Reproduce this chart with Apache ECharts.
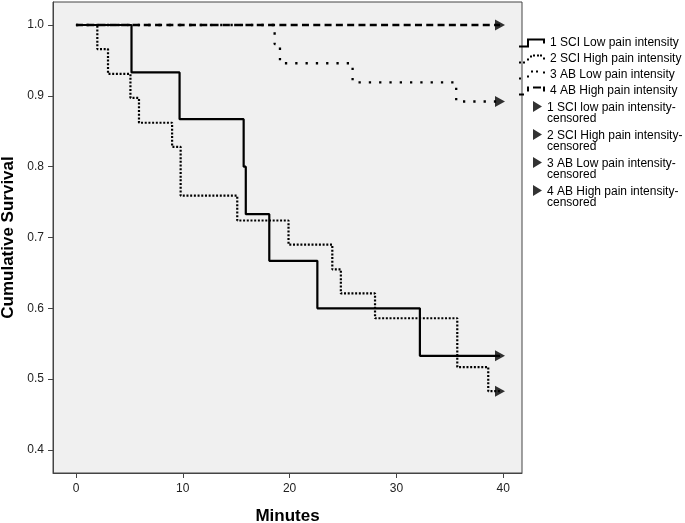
<!DOCTYPE html>
<html>
<head>
<meta charset="utf-8">
<script src="https://cdn.jsdelivr.net/npm/echarts@6/dist/echarts.min.js"></script>
<style>
html,body{margin:0;padding:0;background:#fff;}
#chart{width:685px;height:523px;}
</style>
</head>
<body>
<div id="chart"></div>
<script>
// Data (Kaplan-Meier step points: time in minutes, cumulative survival)
const sciLowTimes  = [0, 5.2, 9.7, 15.7, 15.9, 18.1, 22.6, 32.2, 39.7];
const sciLowSurv   = [1.0, 0.933, 0.867, 0.800, 0.733, 0.667, 0.600, 0.533, 0.533];
const sciHighTimes = [0, 2.0, 3.0, 5.1, 5.9, 9.0, 9.8, 15.1, 19.9, 24.0, 24.8, 28.0, 35.7, 38.6, 39.7];
const sciHighSurv  = [1.0, 0.966, 0.931, 0.897, 0.862, 0.828, 0.759, 0.724, 0.690, 0.655, 0.621, 0.586, 0.517, 0.483, 0.483];
const abLowTimes   = [0, 18.6, 19.1, 25.9, 35.6, 39.7];
const abLowSurv    = [1.0, 0.973, 0.946, 0.919, 0.892, 0.892];
const abHighTimes  = [0, 39.7];
const abHighSurv   = [1.0, 1.0];

const censorTimes = [39.7, 39.7, 39.7, 39.7];
const censorSurv  = [0.533, 0.483, 0.892, 1.0];

const lineNames = [
  '1 SCI Low pain intensity',
  '2 SCI High pain intensity',
  '3 AB Low pain intensity',
  '4 AB High pain intensity'
];
const censorNames = [
  '1 SCI low pain intensity-censored',
  '2 SCI High pain intensity-censored',
  '3 AB Low pain intensity-censored',
  '4 AB High pain intensity-censored'
];
const xTicks = [0, 10, 20, 30, 40];
const yTicks = [0.4, 0.5, 0.6, 0.7, 0.8, 0.9, 1.0];
const xTitle = 'Minutes';
const yTitle = 'Cumulative Survival';

const FONT = "'Liberation Sans', Arial, sans-serif";
const zip = (a, b) => a.map((t, i) => [t, b[i]]);

function sq(x, y, w, h) { return 'M' + x + ',' + y + ' h' + w + ' v' + h + ' h' + (-w) + ' Z '; }
const icons = [
  'path://M0,7 L8,7 L8,0 L26,0 L26,5 L24,5 L24,2 L10,2 L10,9 L0,9 Z',
  'path://' + sq(0,7,2,2) + sq(4,7,2,2) + sq(8,4,2,2) + sq(11,1,2,2) + sq(14,0,2,2) + sq(18,0,2,2) + sq(21,0,2,2) + sq(24,3,2,2),
  'path://' + sq(0,7,2,2) + sq(8,5,2,2) + sq(12,0,2,2) + sq(17,0,2,2) + sq(24,1,2,2),
  'path://' + sq(0,7,5,2) + sq(8,0,2,5) + sq(14,0,8,2) + sq(24,0,2,5)
];
const triIcon = 'path://M0,0 L9,5.5 L0,11 Z M0,24 L0.02,24 L0,24.02 Z';

const lineStyles = [
  { width: 2.2, type: 'solid' },
  { width: 2.2, type: [2, 1.7], cap: 'butt' },
  { width: 2.3, type: [2.3, 8], cap: 'butt' },
  { width: 2.3, type: [7, 4.3], cap: 'butt' }
];
const lineData = [zip(sciLowTimes, sciLowSurv), zip(sciHighTimes, sciHighSurv), zip(abLowTimes, abLowSurv), zip(abHighTimes, abHighSurv)];

const series = [];
// draw order: 4,3,2,1 so solid on top
for (let i = 3; i >= 0; i--) {
  series.push({
    name: lineNames[i], type: 'line', step: 'end', symbol: 'none',
    data: lineData[i], z: 10 - i,
    lineStyle: Object.assign({ color: '#000' }, lineStyles[i]),
    itemStyle: { color: '#000' },
    emphasis: { disabled: true }, silent: true
  });
}
for (let i = 0; i < 4; i++) {
  series.push({
    name: censorNames[i], type: 'scatter',
    symbol: 'path://M0,0 L10,5.5 L0,11 Z', symbolSize: [10, 11],
    data: [[censorTimes[i], censorSurv[i]]],
    itemStyle: { color: '#000' }, z: 20,
    emphasis: { disabled: true }, silent: true
  });
}

const chart = echarts.init(document.getElementById('chart'), null, { renderer: 'canvas' });
chart.setOption({
  animation: false,
  backgroundColor: '#fff',
  textStyle: { fontFamily: FONT },
  grid: { left: 53, top: 2, right: 163, bottom: 50, containLabel: false, outerBoundsMode: 'none',
          show: true, backgroundColor: '#f0f0f0', borderColor: '#444', borderWidth: 1 },
  xAxis: {
    type: 'value', min: -2.15, max: 41.76,
    name: xTitle, nameLocation: 'middle', nameGap: 35,
    nameTextStyle: { fontFamily: FONT, fontSize: 17, fontWeight: 'bold', color: '#000' },
    axisLine: { show: true, onZero: false, lineStyle: { color: '#444', width: 1 } },
    axisTick: { show: true, length: 5, customValues: xTicks, lineStyle: { color: '#444' } },
    axisLabel: { customValues: xTicks, margin: 10, fontFamily: FONT, fontSize: 12, color: '#222' },
    splitLine: { show: false }
  },
  yAxis: {
    type: 'value', min: 0.3675, max: 1.0325,
    name: yTitle, nameLocation: 'middle', nameGap: 32,
    nameTextStyle: { fontFamily: FONT, fontSize: 17, fontWeight: 'bold', color: '#000' },
    axisLine: { show: true, onZero: false, lineStyle: { color: '#444', width: 1 } },
    axisTick: { show: true, length: 5, customValues: yTicks, lineStyle: { color: '#444' } },
    axisLabel: { customValues: yTicks, margin: 9, fontFamily: FONT, fontSize: 12, color: '#222', formatter: v => v.toFixed(1) },
    splitLine: { show: false }
  },
  legend: [
    {
      orient: 'vertical', left: 514, top: 31, padding: 5, itemWidth: 26, itemHeight: 9, itemGap: 2,
      selectedMode: false,
      data: lineNames.map((n, i) => ({ name: n, icon: icons[i] })),
      itemStyle: { color: '#000' },
      textStyle: { fontFamily: FONT, fontSize: 12, color: '#000', lineHeight: 14 }
    },
    {
      orient: 'vertical', left: 528, top: 96, padding: 5, itemWidth: 9, itemHeight: 24, itemGap: 4,
      selectedMode: false,
      data: censorNames.map(n => ({ name: n, icon: triIcon })),
      itemStyle: { color: '#000' },
      formatter: n => n.replace('-censored', '-\ncensored'),
      textStyle: { fontFamily: FONT, fontSize: 12, color: '#000', lineHeight: 11.5 }
    }
  ],
  series: series
});
</script>
</body>
</html>
